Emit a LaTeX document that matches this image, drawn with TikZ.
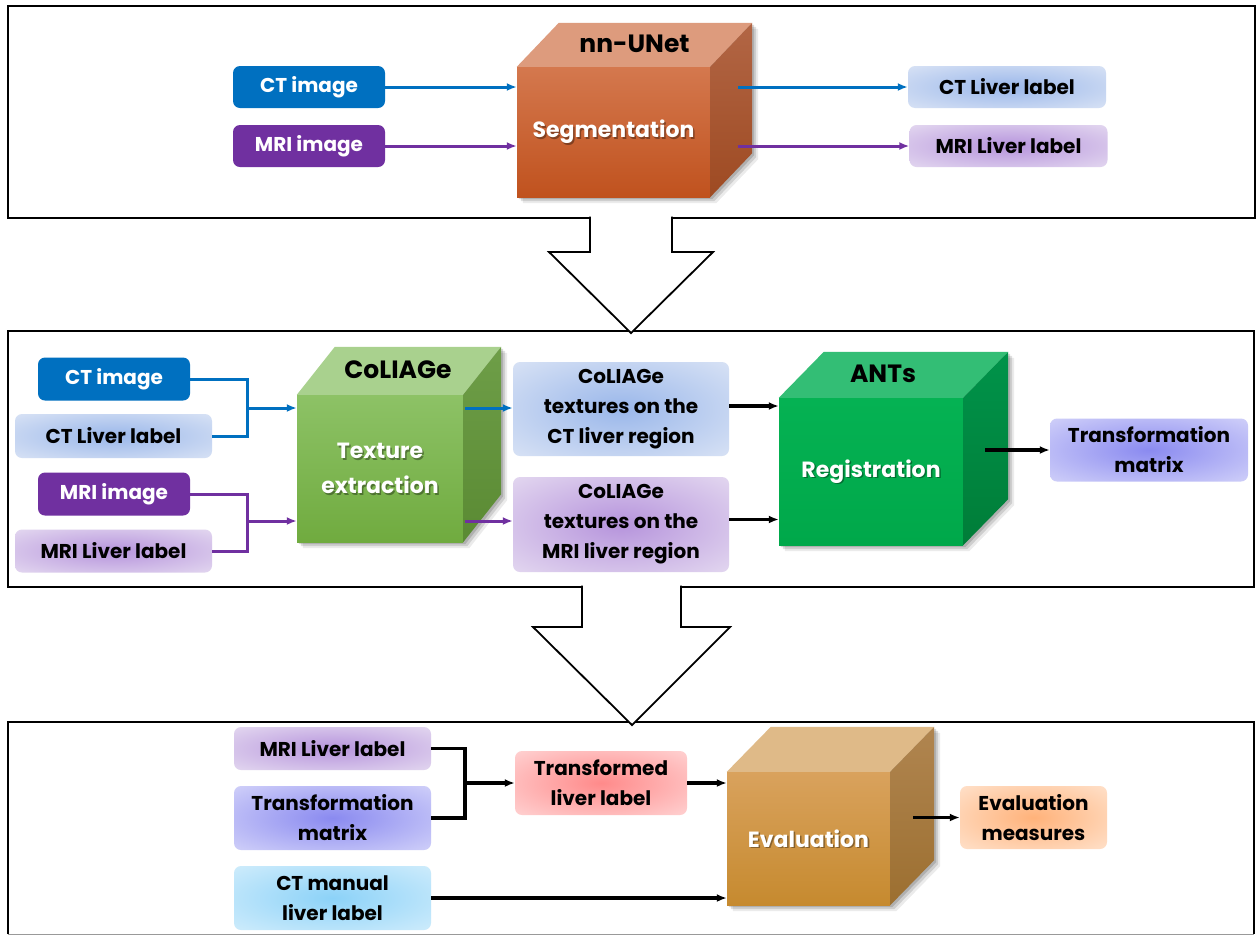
\documentclass[tikz,border=0pt]{standalone}
\usepackage{fontspec}
\setmainfont{Poppins}
\usetikzlibrary{arrows.meta,calc,backgrounds}

% solid input boxes and arrows
\definecolor{ctblue}{HTML}{0070C0}
\definecolor{mrpurple}{HTML}{7030A0}
% soft label boxes (centre / rim)
\definecolor{ctin}{HTML}{9AB7EA}\definecolor{ctout}{HTML}{DFE7F6}
\definecolor{mrin}{HTML}{B694DC}\definecolor{mrout}{HTML}{E8DFF2}
\definecolor{tmin}{HTML}{8A8AF0}\definecolor{tmout}{HTML}{D8D8FA}
\definecolor{cmin}{HTML}{8CD2F8}\definecolor{cmout}{HTML}{D6EFFC}
\definecolor{tlin}{HTML}{FF8A8A}\definecolor{tlout}{HTML}{FFDADA}
\definecolor{emin}{HTML}{FFB27A}\definecolor{emout}{HTML}{FFE6D3}
% cube faces
\definecolor{segfronttop}{HTML}{D4784E}\definecolor{segfrontbot}{HTML}{C0521E}
\definecolor{segtop}{HTML}{DD9B7D}\definecolor{segsidetop}{HTML}{B26645}\definecolor{segsidebot}{HTML}{9E4A22}
\definecolor{colfronttop}{HTML}{8DC266}\definecolor{colfrontbot}{HTML}{70AB3F}
\definecolor{coltop}{HTML}{A9D18E}\definecolor{colsidetop}{HTML}{6E9E48}\definecolor{colsidebot}{HTML}{5A8A33}
\definecolor{antfronttop}{HTML}{05B253}\definecolor{antfrontbot}{HTML}{00A84A}
\definecolor{anttop}{HTML}{33BE75}\definecolor{antsidetop}{HTML}{00934A}\definecolor{antsidebot}{HTML}{007D38}
\definecolor{evfronttop}{HTML}{D9A25D}\definecolor{evfrontbot}{HTML}{C68A2F}
\definecolor{evtop}{HTML}{DFBA88}\definecolor{evsidetop}{HTML}{B08550}\definecolor{evsidebot}{HTML}{9C6F30}

% elliptical glow fills for the soft boxes
\newcommand\glowshade[3]{\pgfdeclareradialshading{#1}{\pgfpoint{0bp}{0bp}}%
  {color(0bp)=(#2); color(40bp)=(#3); color(50bp)=(#3)}}
\glowshade{ctglow}{ctin}{ctout}
\glowshade{mrglow}{mrin}{mrout}
\glowshade{tmglow}{tmin}{tmout}
\glowshade{cmglow}{cmin}{cmout}
\glowshade{tlglow}{tlin}{tlout}
\glowshade{emglow}{emin}{emout}

\tikzset{
  panel/.style={draw=black, line width=2.2pt},
  bigarrow/.style={fill=white, draw=black, line width=1.8pt, line join=miter},
  solidbox/.style={rounded corners=7pt, text=white, align=center, inner sep=0pt,
    font=\fontsize{20}{24}\selectfont\bfseries},
  softbox/.style={rounded corners=7pt, align=center, inner sep=0pt,
    font=\fontsize{20}{30}\selectfont\bfseries},
  ctsoft/.style={softbox, shading=ctglow},
  mrsoft/.style={softbox, shading=mrglow},
  tmsoft/.style={softbox, shading=tmglow},
  cmsoft/.style={softbox, shading=cmglow},
  tlsoft/.style={softbox, shading=tlglow},
  emsoft/.style={softbox, shading=emglow},
  cubefront/.style={inner sep=0pt, text=white, align=center,
    font=\fontsize{22}{35}\selectfont\bfseries},
  cubeshadowtext/.style={cubefront, text=black, opacity=0.35},
  cubetitle/.style={font=\fontsize{25}{28}\selectfont\bfseries, text=black},
  flow/.style={line width=3pt, -{Latex[length=10pt,width=8pt]}},
  ctflow/.style={flow, draw=ctblue},
  mrflow/.style={flow, draw=mrpurple},
  bkflow/.style={flow, line width=3.2pt, draw=black},
  ctline/.style={line width=3pt, draw=ctblue},
  mrline/.style={line width=3pt, draw=mrpurple},
  bkline/.style={line width=3.2pt, draw=black},
}

% top and side faces of a cube whose front face is node #1, with a soft
% shadow behind it; #2,#3: depth offset (right, up); #4 top colour;
% #5,#6 side colours
\newcommand\cubebody[6]{%
  \begin{scope}[on background layer]
    \foreach \o/\a in {6/0.08,4/0.12,2/0.15}{
      \fill[black, opacity=\a] ($(#1.north west)+(\o,\o)$) -- ($(#1.north west)+(#2+\o,-#3+\o)$)
        -- ($(#1.north east)+(#2+\o,-#3+\o)$) -- ($(#1.south east)+(#2+\o,-#3+\o)$)
        -- ($(#1.south east)+(\o,\o)$) -- ($(#1.south west)+(\o,\o)$) -- cycle;
    }
  \end{scope}
  \fill[#4] (#1.north west) -- ++(#2,-#3) -- ($(#1.north east)+(#2,-#3)$) -- (#1.north east) -- cycle;
  \shade[top color=#5, bottom color=#6] (#1.north east) -- ++(#2,-#3)
     -- ($(#1.south east)+(#2,-#3)$) -- (#1.south east) -- cycle;
}

\begin{document}
\begin{tikzpicture}[x=1pt, y=-1pt]
\useasboundingbox (0,0) rectangle (1257,935);
\begin{scope}[on background layer]
  \fill[white] (0,0) rectangle (1257,935);
\end{scope}

% ---------- panels and hollow arrows ----------
\draw[panel] (8,6) rectangle (1255,218);
\draw[panel] (8,331) rectangle (1254,587);
\draw[panel] (8,934) -- (8,722) -- (1254,722) -- (1254,934);
\draw[line width=0.8pt, draw=black!40] (8,934) -- (1254,934);

\path[bigarrow] (590,216.5) -- (590,252) -- (549,252) -- (631,333) -- (713,252) -- (672,252) -- (672,216.5);
\path[bigarrow] (582,585.5) -- (582,627) -- (533,627) -- (632,725) -- (730,627) -- (681,627) -- (681,585.5);

% ---------- segmentation stage ----------
\node[solidbox, fill=ctblue, minimum width=152pt, minimum height=42pt] (ct1) at (309,87) {CT image};
\node[solidbox, fill=mrpurple, minimum width=152pt, minimum height=42pt] (mr1) at (309,146) {MRI image};

\node[cubefront, top color=segfronttop, bottom color=segfrontbot,
      minimum width=193pt, minimum height=130pt] (seg) at (613.5,132) {};
\cubebody{seg}{42}{44}{segtop}{segsidetop}{segsidebot}
\node[cubeshadowtext] (segsh) at ($(seg.center)+(1.5,1.5)$) {Segmentation};
\node[cubefront] (segtxt) at (seg.center) {Segmentation};
\node[cubetitle] (segtitle) at ($(seg.north)+(21,-23)$) {nn-UNet};

\node[ctsoft, minimum width=198pt, minimum height=42pt] (ctl1) at (1007,87) {CT Liver label};
\node[mrsoft, minimum width=198pt, minimum height=42pt] (mrl1) at (1008.5,146) {MRI Liver label};

\draw[ctflow] (ct1.east) -- (ct1.east -| seg.west);
\draw[mrflow] (mr1.east) -- (mr1.east -| seg.west);
\draw[ctflow] ($(seg.east |- ctl1.west)+(28,0)$) -- (ctl1.west);
\draw[mrflow] ($(seg.east |- mrl1.west)+(28,0)$) -- (mrl1.west);

% ---------- texture extraction and registration stage ----------
\node[solidbox, fill=ctblue, minimum width=152pt, minimum height=43pt] (ct2) at (114,379) {CT image};
\node[ctsoft, minimum width=197pt, minimum height=44pt] (ctl2) at (113.5,436) {CT Liver label};
\node[solidbox, fill=mrpurple, minimum width=152pt, minimum height=43pt] (mr2) at (114,494) {MRI image};
\node[mrsoft, minimum width=197pt, minimum height=43pt] (mrl2) at (113.5,551) {MRI Liver label};

\node[cubefront, top color=colfronttop, bottom color=colfrontbot,
      minimum width=166pt, minimum height=147pt] (col) at (380,468.5) {};
\cubebody{col}{38}{48}{coltop}{colsidetop}{colsidebot}
\node[cubeshadowtext] (colsh) at ($(col.center)+(1.5,1.5)$) {Texture\\extraction};
\node[cubefront] (coltxt) at (col.center) {Texture\\extraction};
\node[cubetitle] (coltitle) at ($(col.north)+(18,-25)$) {CoLIAGe};

\node[ctsoft, minimum width=216pt, minimum height=94pt] (tx1) at (621,409) {CoLIAGe\\textures on the\\CT liver region};
\node[mrsoft, minimum width=216pt, minimum height=95pt] (tx2) at (621,524.5) {CoLIAGe\\textures on the\\MRI liver region};

\node[cubefront, top color=antfronttop, bottom color=antfrontbot,
      minimum width=184pt, minimum height=147pt] (ants) at (871,471.5) {};
\cubebody{ants}{45}{46}{anttop}{antsidetop}{antsidebot}
\node[cubeshadowtext] (antssh) at ($(ants.center)+(1.5,1.5)$) {Registration};
\node[cubefront] (antstxt) at (ants.center) {Registration};
\node[cubetitle] (antstitle) at ($(ants.north)+(12,-24)$) {ANTs};

\node[tmsoft, minimum width=198pt, minimum height=63pt] (tm1) at (1149,450) {Transformation\\matrix};

\coordinate (j1) at (247,408);
\coordinate (j2) at (247,521);
\draw[ctline] (ct2.east) -| (j1) |- (ctl2.east);
\draw[mrline] (mr2.east) -| (j2) |- (mrl2.east);
\draw[ctflow] (j1) -- (j1 -| col.west);
\draw[mrflow] (j2) -- (j2 -| col.west);
\draw[ctflow] ($(col.east |- j1)+(2,0)$) -- (tx1.west |- j1);
\draw[mrflow] ($(col.east |- j2)+(2,0)$) -- (tx2.west |- j2);
\draw[bkflow] ($(tx1.east)+(0,-3)$) -- ($(tx1.east -| ants.west)+(0,-3)$);
\draw[bkflow] ($(tx2.east)+(0,-5)$) -- ($(tx2.east -| ants.west)+(0,-5)$);
\draw[bkflow] ($(ants.east |- tm1.west)+(22,0)$) -- (tm1.west);

% ---------- evaluation stage ----------
\node[mrsoft, minimum width=197pt, minimum height=43pt] (mrl3) at (332.5,748.5) {MRI Liver label};
\node[tmsoft, minimum width=197pt, minimum height=64pt] (tm3) at (332.5,818) {Transformation\\matrix};
\node[cmsoft, minimum width=197pt, minimum height=64pt] (ctm) at (332.5,898) {CT manual\\liver label};

\node[tlsoft, minimum width=172pt, minimum height=64pt] (tl) at (601,783) {Transformed\\liver label};

\node[cubefront, top color=evfronttop, bottom color=evfrontbot,
      minimum width=163pt, minimum height=133pt] (ev) at (808.5,838.5) {};
\cubebody{ev}{44}{45}{evtop}{evsidetop}{evsidebot}
\node[cubeshadowtext] (evsh) at ($(ev.center)+(1.5,1.5)$) {Evaluation};
\node[cubefront] (evtxt) at (ev.center) {Evaluation};

\node[emsoft, minimum width=147pt, minimum height=63pt] (em) at (1033.5,817.5) {Evaluation\\measures};

\coordinate (j3) at (465,783);
\draw[bkline] (mrl3.east) -| (j3) |- (tm3.east);
\draw[bkflow] (j3) -- (tl.west);
\draw[bkflow] (tl.east) -- (tl.east -| ev.west);
\draw[bkflow] (ctm.east) -- (ctm.east -| ev.west);
\draw[bkflow] ($(ev.east |- em.west)+(23,0)$) -- (em.west);
\end{tikzpicture}
\end{document}
